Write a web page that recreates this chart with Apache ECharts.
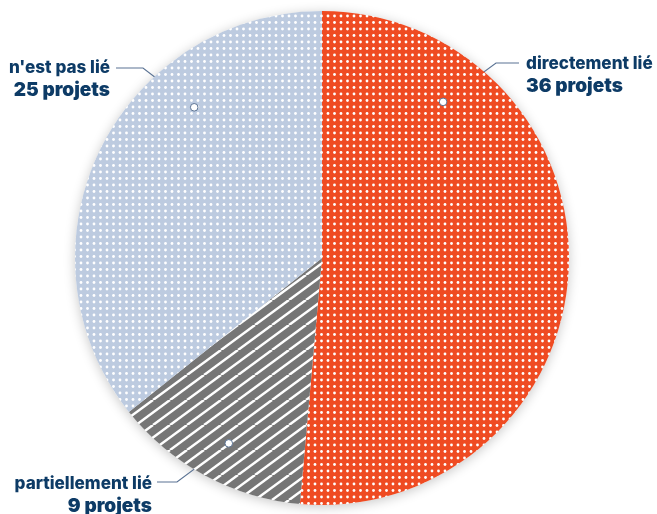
<!DOCTYPE html>
<html>
<head>
<meta charset="utf-8">
<script src="https://cdn.jsdelivr.net/npm/echarts@6/dist/echarts.min.js"></script>
<style>
  html, body { margin: 0; padding: 0; background: #ffffff; }
  #chart { width: 657px; height: 514px; }
</style>
</head>
<body>
<div id="chart"></div>
<script>
// Number of projects by how closely they are linked
const categories = ['directement lié', 'partiellement lié', "n'est pas lié"];
const projectCounts = [36, 9, 25];
const countUnit = 'projets';

// Pie geometry (pixels)
const CENTER = [322, 258];
const RADIUS = 247;

const TEXT_COLOR = '#0D3B66';
const LINE_COLOR = '#5B7394';

// Fill textures -------------------------------------------------------
function dotTexture(bg) {
  const size = 13, step = 6.5;
  const c = document.createElement('canvas');
  c.width = size; c.height = size;
  const ctx = c.getContext('2d');
  ctx.fillStyle = bg;
  ctx.fillRect(0, 0, size, size);
  ctx.fillStyle = '#ffffff';
  for (let i = 0; i < 2; i++) {
    for (let j = 0; j < 2; j++) {
      ctx.beginPath();
      ctx.arc(3 + i * step, 3 + j * step, 1.4, 0, Math.PI * 2);
      ctx.fill();
    }
  }
  return c;
}

function stripeTexture(bg) {
  const w = 34, h = 25;
  const c = document.createElement('canvas');
  c.width = w; c.height = h;
  const ctx = c.getContext('2d');
  ctx.fillStyle = bg;
  ctx.fillRect(0, 0, w, h);
  ctx.strokeStyle = '#ffffff';
  ctx.lineWidth = 2.5;
  // two stripes per tile, rising to the right, 17px apart horizontally
  for (let k = -2; k <= 2; k++) {
    ctx.beginPath();
    ctx.moveTo(k * 17, h);
    ctx.lineTo(k * 17 + w, 0);
    ctx.stroke();
  }
  return c;
}

const sliceFills = [
  { image: dotTexture('#EF4B22'), repeat: 'repeat' },
  { image: stripeTexture('#767676'), repeat: 'repeat' },
  { image: dotTexture('#BDCBE0'), repeat: 'repeat' }
];

// Where each callout sits: anchor inside the slice (angle clockwise from
// 12 o'clock, fraction of the radius), elbow, line end and text position.
const callouts = [
  { angle: 37.8,  r: 0.80, elbow: [496, 63],  end: [519, 63],  text: [526, 75],  align: 'left'  },
  { angle: 206.7, r: 0.84, elbow: [177, 482], end: [157, 482], text: [152, 495], align: 'right' },
  { angle: 319.7, r: 0.80, elbow: [143, 68],  end: [116, 68],  text: [110, 79],  align: 'right' }
];

function anchorPoint(c) {
  const a = c.angle * Math.PI / 180;
  return [CENTER[0] + RADIUS * c.r * Math.sin(a), CENTER[1] - RADIUS * c.r * Math.cos(a)];
}

const pieData = categories.map((name, i) => ({
  name: name,
  value: projectCounts[i],
  itemStyle: { color: sliceFills[i] },
  label: { align: callouts[i].align }
}));

const chart = echarts.init(document.getElementById('chart'), null, { renderer: 'canvas' });

chart.setOption({
  backgroundColor: '#ffffff',
  animation: false,
  graphic: [
    {
      type: 'circle',
      z: 0,
      shape: { cx: CENTER[0], cy: CENTER[1], r: RADIUS },
      style: { fill: '#ffffff', shadowBlur: 12, shadowOffsetY: 2, shadowColor: 'rgba(0,0,0,0.22)' }
    }
  ].concat(callouts.map(c => {
    const p = anchorPoint(c);
    return {
      type: 'circle',
      z: 100,
      shape: { cx: p[0], cy: p[1], r: 3.8 },
      style: { fill: '#ffffff', stroke: LINE_COLOR, lineWidth: 1 }
    };
  })),
  series: [{
    type: 'pie',
    z: 5,
    center: CENTER,
    radius: [0, RADIUS],
    startAngle: 90,
    clockwise: true,
    silent: true,
    itemStyle: { borderWidth: 0 },
    label: {
      show: true,
      position: 'outside',
      overflow: 'none',
      formatter: p => `{a|${p.name}}\n{b|${p.value} ${countUnit}}`,
      rich: {
        a: { fontFamily: 'Inter', fontWeight: 800, fontSize: 17.1, color: TEXT_COLOR, lineHeight: 23 },
        b: { fontFamily: 'Inter', fontWeight: 900, fontSize: 19, color: TEXT_COLOR, lineHeight: 23 }
      }
    },
    labelLine: {
      show: true,
      lineStyle: { color: LINE_COLOR, width: 1.2 }
    },
    labelLayout: params => {
      const c = callouts[params.dataIndex];
      return {
        x: c.text[0],
        y: c.text[1],
        align: c.align,
        verticalAlign: 'middle',
        labelLinePoints: [anchorPoint(c), c.elbow, c.end]
      };
    },
    data: pieData
  }]
});
</script>
</body>
</html>
